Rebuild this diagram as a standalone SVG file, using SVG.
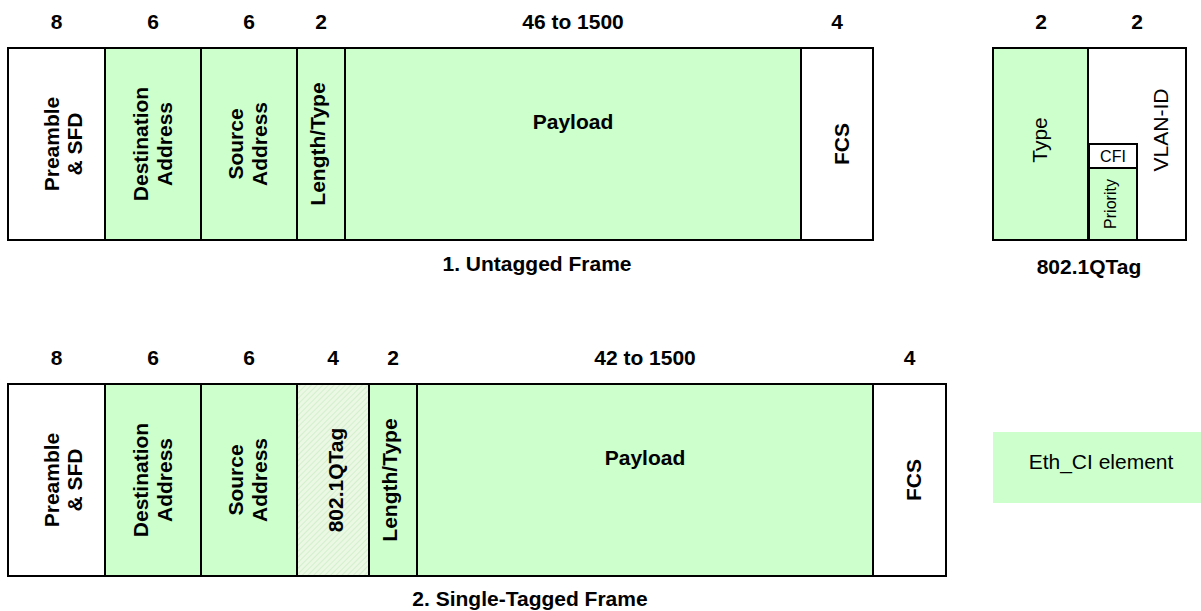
<svg xmlns="http://www.w3.org/2000/svg" width="1201" height="611" viewBox="0 0 1201 611">
<defs>
<pattern id="hatch" width="4" height="4" patternUnits="userSpaceOnUse" patternTransform="rotate(45)">
<rect width="4" height="4" fill="#eaf8e4"/>
<line x1="0" y1="0" x2="0" y2="4" stroke="#cdeec6" stroke-width="1.5"/>
</pattern>
</defs>
<style>
.f{stroke:#000;stroke-width:2}
.g{fill:#ccffcc}
.w{fill:#fff}
.h{fill:url(#hatch)}
text{font-family:"Liberation Sans",Arial,sans-serif;fill:#000}
.b{font-weight:bold;font-size:21px}
.n{font-weight:bold;font-size:21px;text-anchor:middle}
.r{font-size:21px}
.s{font-size:16px}
.c{text-anchor:middle}
</style>
<g id="untagged-frame">
<g id="u-preamble"><rect class="f w" x="8" y="48" width="97" height="192"/><text class="b c" transform="translate(59,144) rotate(-90)">Preamble</text><text class="b c" transform="translate(82,144) rotate(-90)">&amp; SFD</text></g>
<g id="u-dest"><rect class="f g" x="105" y="48" width="96" height="192"/><text class="b c" transform="translate(148,144) rotate(-90)">Destination</text><text class="b c" transform="translate(172,144) rotate(-90)">Address</text></g>
<g id="u-src"><rect class="f g" x="201" y="48" width="96" height="192"/><text class="b c" transform="translate(243,144) rotate(-90)">Source</text><text class="b c" transform="translate(267,144) rotate(-90)">Address</text></g>
<g id="u-len"><rect class="f g" x="297" y="48" width="48" height="192"/><text class="b c" transform="translate(325,144) rotate(-90)">Length/Type</text></g>
<g id="u-payload"><rect class="f g" x="345" y="48" width="456" height="192"/><text class="b c" x="573" y="129">Payload</text></g>
<g id="u-fcs"><rect class="f w" x="801" y="48" width="72" height="192"/><text class="b c" transform="translate(849,144) rotate(-90)">FCS</text></g>
<text class="n" x="56.5" y="29">8</text>
<text class="n" x="153" y="29">6</text>
<text class="n" x="249" y="29">6</text>
<text class="n" x="321" y="29">2</text>
<text class="n" x="573" y="29">46 to 1500</text>
<text class="n" x="837" y="29">4</text>
<text class="n" x="537" y="271">1. Untagged Frame</text>
</g>
<g id="tag">
<g id="tag-type"><rect class="f g" x="993" y="48" width="95" height="192"/><text class="r c" transform="translate(1047,140) rotate(-90)">Type</text></g>
<g id="tag-vlan"><rect class="f w" x="1088" y="48" width="98" height="192"/><text class="r c" transform="translate(1168,130) rotate(-90)">VLAN-ID</text></g>
<g id="tag-cfi"><rect class="f w" x="1089" y="144" width="48" height="24"/><text class="s c" x="1113" y="162">CFI</text></g>
<g id="tag-priority"><rect class="f g" x="1089" y="168" width="48" height="72"/><text class="s c" transform="translate(1116,204) rotate(-90)">Priority</text></g>
<text class="n" x="1041" y="29">2</text>
<text class="n" x="1137" y="29">2</text>
<text class="n" x="1089" y="274">802.1QTag</text>
</g>
<g id="tagged-frame">
<g id="t-preamble"><rect class="f w" x="8" y="384" width="97" height="192"/><text class="b c" transform="translate(59,480) rotate(-90)">Preamble</text><text class="b c" transform="translate(82,480) rotate(-90)">&amp; SFD</text></g>
<g id="t-dest"><rect class="f g" x="105" y="384" width="96" height="192"/><text class="b c" transform="translate(148,480) rotate(-90)">Destination</text><text class="b c" transform="translate(172,480) rotate(-90)">Address</text></g>
<g id="t-src"><rect class="f g" x="201" y="384" width="96" height="192"/><text class="b c" transform="translate(243,480) rotate(-90)">Source</text><text class="b c" transform="translate(267,480) rotate(-90)">Address</text></g>
<g id="t-tag"><rect class="f h" x="297" y="384" width="72" height="192"/><text class="b c" transform="translate(343,480) rotate(-90)">802.1QTag</text></g>
<g id="t-len"><rect class="f g" x="369" y="384" width="48" height="192"/><text class="b c" transform="translate(397,480) rotate(-90)">Length/Type</text></g>
<g id="t-payload"><rect class="f g" x="417" y="384" width="456" height="192"/><text class="b c" x="645" y="465">Payload</text></g>
<g id="t-fcs"><rect class="f w" x="873" y="384" width="73" height="192"/><text class="b c" transform="translate(921,480) rotate(-90)">FCS</text></g>
<text class="n" x="56.5" y="365">8</text>
<text class="n" x="153" y="365">6</text>
<text class="n" x="249" y="365">6</text>
<text class="n" x="333" y="365">4</text>
<text class="n" x="393" y="365">2</text>
<text class="n" x="645" y="365">42 to 1500</text>
<text class="n" x="909.5" y="365">4</text>
<text class="n" x="530" y="606">2. Single-Tagged Frame</text>
</g>
<g id="legend"><rect class="g" x="993" y="432" width="208" height="71"/><text class="r c" x="1101" y="469">Eth_CI element</text></g>
<g id="connectors"/>
</svg>
